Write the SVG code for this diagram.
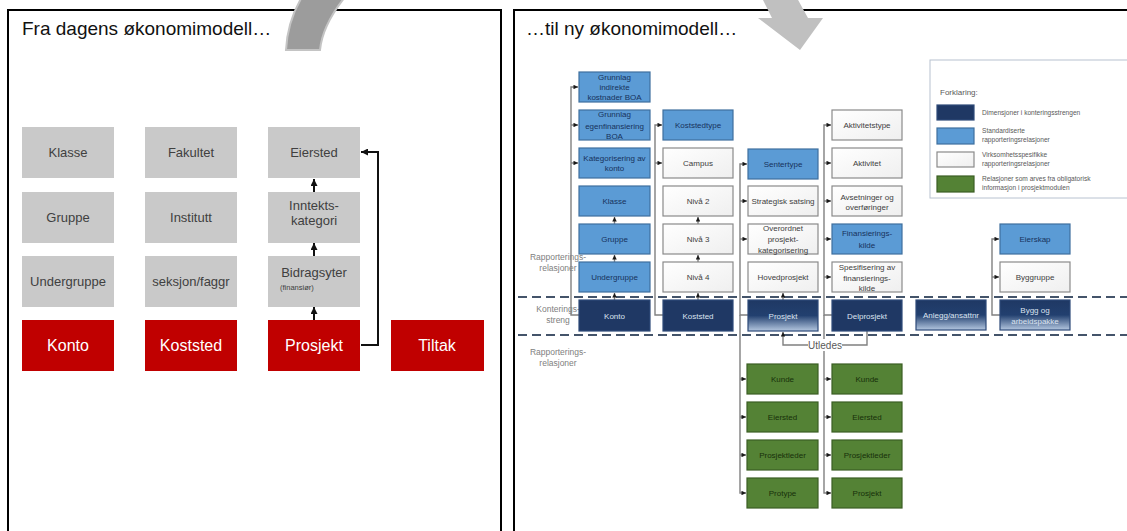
<svg xmlns="http://www.w3.org/2000/svg" width="1127" height="531" viewBox="0 0 1127 531">
<style>
.frame{fill:#fff;stroke:#000;stroke-width:2}
.title{font-family:"Liberation Sans",Arial,sans-serif;font-size:19px;fill:#111}
.gb{fill:#c9c9c9}
.rb{fill:#c00000}
.gt{font-family:"Liberation Sans",Arial,sans-serif;font-size:13px;fill:#404040;text-anchor:middle}
.rt{font-family:"Liberation Sans",Arial,sans-serif;font-size:16px;fill:#fff;text-anchor:middle}
.lc{fill:none;stroke:#111;stroke-width:2}
.b{fill:#5b9bd5;stroke:#3f6f9e;stroke-width:1.2}
.w{fill:url(#wg);stroke:#8a8a8a;stroke-width:1.2}
.n{fill:#1f3864;stroke:#2e4a78;stroke-width:1.2}
.ngr{fill:url(#ng);stroke:#2e4a78;stroke-width:1.2}
.g{fill:#548235;stroke:#3b5e23;stroke-width:1.2}
.t{font-family:"Liberation Sans",Arial,sans-serif;font-size:8px;text-anchor:middle}
.tb{fill:#17325c}
.tw{fill:#404040}
.tn{fill:#dbe3f0}
.tg{fill:#17300a}
.lab{font-family:"Liberation Sans",Arial,sans-serif;font-size:8.5px;fill:#808080;text-anchor:middle}
.rc{fill:none;stroke:#808080;stroke-width:1.4}
.dash{stroke:#44546a;stroke-width:2;stroke-dasharray:9 5}
.lg{font-family:"Liberation Sans",Arial,sans-serif;font-size:6.6px;fill:#595959}
</style>
<defs>
<linearGradient id="ng" x1="0" y1="0" x2="0" y2="1">
<stop offset="0" stop-color="#1f3864"/><stop offset="0.5" stop-color="#22406f"/><stop offset="1" stop-color="#b4c7e0"/>
</linearGradient>
<linearGradient id="wg" x1="0" y1="0" x2="1" y2="1">
<stop offset="0" stop-color="#ffffff"/><stop offset="1" stop-color="#efefef"/>
</linearGradient>
<marker id="la" viewBox="0 0 6 6" refX="6" refY="3" markerWidth="7" markerHeight="7" markerUnits="userSpaceOnUse" orient="auto"><path d="M0,0L6,3L0,6z" fill="#111"/></marker>
<marker id="ra" viewBox="0 0 6 6" refX="6" refY="3" markerWidth="5" markerHeight="4.5" markerUnits="userSpaceOnUse" orient="auto"><path d="M0,0L6,3L0,6z" fill="#1a1a1a"/></marker>
</defs>
<rect width="1127" height="531" fill="#fff"/>
<rect class="frame" x="8" y="10" width="493" height="540"/>
<rect class="frame" x="514" y="10" width="630" height="540"/>
<text class="title" x="22" y="35">Fra dagens økonomimodell…</text>
<text class="title" x="526" y="35">…til ny økonomimodell…</text>

<!-- curved arrow pieces -->
<path d="M286,50 C287,30 293,12 302,-3 L345,-3 C333,12 322,30 320,50 Z" fill="#9c9c9c" stroke="#c4c4c4" stroke-width="2"/>
<path d="M762,-2 L772,18 L758,18 L800,50 L823,18 L808,18 L797,-2 Z" fill="#c0c0c0"/>

<!-- left panel -->
<g id="l-klasse"><rect class="gb" x="22" y="127" width="92" height="51"/><text class="gt" x="68" y="157">Klasse</text></g>
<g id="l-gruppe"><rect class="gb" x="22" y="192" width="92" height="51"/><text class="gt" x="68" y="222">Gruppe</text></g>
<g id="l-undergruppe"><rect class="gb" x="22" y="256" width="92" height="51"/><text class="gt" x="68" y="286">Undergruppe</text></g>
<g id="l-konto"><rect class="rb" x="22" y="320" width="92" height="51"/><text class="rt" x="68" y="351">Konto</text></g>
<g id="l-fakultet"><rect class="gb" x="145" y="127" width="92" height="51"/><text class="gt" x="191" y="157">Fakultet</text></g>
<g id="l-institutt"><rect class="gb" x="145" y="192" width="92" height="51"/><text class="gt" x="191" y="222">Institutt</text></g>
<g id="l-seksjon"><rect class="gb" x="145" y="256" width="92" height="51"/><text class="gt" x="191" y="286">seksjon/faggr</text></g>
<g id="l-koststed"><rect class="rb" x="145" y="320" width="92" height="51"/><text class="rt" x="191" y="351">Koststed</text></g>
<g id="l-eiersted"><rect class="gb" x="268" y="127" width="92" height="51"/><text class="gt" x="314" y="157">Eiersted</text></g>
<g id="l-inntekt"><rect class="gb" x="268" y="192" width="92" height="51"/><text class="gt" x="314" y="209.5">Inntekts-</text><text class="gt" x="314" y="224.5">kategori</text></g>
<g id="l-bidrag"><rect class="gb" x="268" y="256" width="92" height="51"/><text class="gt" x="314" y="276.5">Bidragsyter</text><text x="280" y="289.5" font-family="Liberation Sans, Arial, sans-serif" font-size="7.5" fill="#404040">(finansiør)</text></g>
<g id="l-prosjekt"><rect class="rb" x="268" y="320" width="92" height="51"/><text class="rt" x="314" y="351">Prosjekt</text></g>
<g id="l-tiltak"><rect class="rb" x="391" y="320" width="93" height="51"/><text class="rt" x="437" y="351">Tiltak</text></g>

<g id="l-connectors">
<path class="lc" d="M314,320 V307" marker-end="url(#la)"/>
<path class="lc" d="M314,256 V243" marker-end="url(#la)"/>
<path class="lc" d="M314,192 V179" marker-end="url(#la)"/>
<path class="lc" d="M361,345 H378 V152 H361" marker-end="url(#la)"/>
</g>

<!-- right panel: dashed separators -->
<line class="dash" x1="518" y1="297" x2="1127" y2="297"/>
<line class="dash" x1="518" y1="335" x2="1127" y2="335"/>
<text class="lab" x="558" y="260">Rapporterings-</text>
<text class="lab" x="558" y="271">relasjoner</text>
<text class="lab" x="558" y="312">Konterings-</text>
<text class="lab" x="558" y="323">streng</text>
<text class="lab" x="558" y="355">Rapporterings-</text>
<text class="lab" x="558" y="366">relasjoner</text>

<!-- legend -->
<g id="legend">
<rect x="930" y="60" width="210" height="138" fill="#fff" stroke="#b8c2d0" stroke-width="1"/>
<text x="940" y="95" font-family="Liberation Sans, Arial, sans-serif" font-size="8" fill="#595959">Forklaring:</text>
<rect class="n" x="937" y="105" width="37" height="15"/>
<rect class="b" x="937" y="128" width="37" height="16"/>
<rect class="w" x="937" y="152" width="37" height="15"/>
<rect class="g" x="937" y="176" width="37" height="16"/>
<text class="lg" x="982" y="114.5">Dimensjoner i konteringsstrengen</text>
<text class="lg" x="982" y="133">Standardiserte</text>
<text class="lg" x="982" y="142">rapporteringsrelasjoner</text>
<text class="lg" x="982" y="157">Virksomhetsspesifikke</text>
<text class="lg" x="982" y="166">rapporteringsrelasjoner</text>
<text class="lg" x="982" y="181">Relasjoner som arves fra obligatorisk</text>
<text class="lg" x="982" y="190">informasjon i prosjektmodulen</text>
</g>

<!-- right panel connectors -->
<g id="connectors">
<path class="rc" d="M579,315 H571 V87 H578" marker-end="url(#ra)"/>
<path class="rc" d="M571,125 H578" marker-end="url(#ra)"/>
<path class="rc" d="M571,163 H578" marker-end="url(#ra)"/>
<path class="rc" d="M614.5,300 V293" marker-end="url(#ra)"/>
<path class="rc" d="M614.5,262 V255" marker-end="url(#ra)"/>
<path class="rc" d="M614.5,224 V217" marker-end="url(#ra)"/>
<path class="rc" d="M663,315 H655 V125 H662" marker-end="url(#ra)"/>
<path class="rc" d="M655,163 H662" marker-end="url(#ra)"/>
<path class="rc" d="M698,300 V293" marker-end="url(#ra)"/>
<path class="rc" d="M698,262 V255" marker-end="url(#ra)"/>
<path class="rc" d="M698,224 V217" marker-end="url(#ra)"/>
<path class="rc" d="M748,315 H740 V164 H747" marker-end="url(#ra)"/>
<path class="rc" d="M740,201 H747" marker-end="url(#ra)"/>
<path class="rc" d="M740,239 H747" marker-end="url(#ra)"/>
<path class="rc" d="M740,315 V493 H746" marker-end="url(#ra)"/>
<path class="rc" d="M740,379 H746" marker-end="url(#ra)"/>
<path class="rc" d="M740,417 H746" marker-end="url(#ra)"/>
<path class="rc" d="M740,455 H746" marker-end="url(#ra)"/>
<path class="rc" d="M783,300 V293" marker-end="url(#ra)"/>
<path class="rc" d="M832,315 H824 V125 H831" marker-end="url(#ra)"/>
<path class="rc" d="M824,163 H831" marker-end="url(#ra)"/>
<path class="rc" d="M824,201 H831" marker-end="url(#ra)"/>
<path class="rc" d="M824,239 H831" marker-end="url(#ra)"/>
<path class="rc" d="M824,277 H831" marker-end="url(#ra)"/>
<path class="rc" d="M824,315 V493 H831" marker-end="url(#ra)"/>
<path class="rc" d="M824,379 H831" marker-end="url(#ra)"/>
<path class="rc" d="M824,417 H831" marker-end="url(#ra)"/>
<path class="rc" d="M824,455 H831" marker-end="url(#ra)"/>
<path class="rc" d="M1000,315 H992 V239 H999" marker-end="url(#ra)"/>
<path class="rc" d="M992,277 H999" marker-end="url(#ra)"/>
<path class="rc" d="M867,331 V345 H783 V332" marker-end="url(#ra)"/>
<rect x="808" y="339" width="34" height="12" fill="#fff"/>
<text x="825" y="348.5" font-family="Liberation Sans, Arial, sans-serif" font-size="10" fill="#595959" text-anchor="middle">Utledes</text>
</g>

<!-- column 1 -->
<g id="r-grunnlag-indirekte"><rect class="b" x="579" y="72" width="71" height="30"/><text class="t tb" x="614.5" y="79.5">Grunnlag</text><text class="t tb" x="614.5" y="89.5">indirekte</text><text class="t tb" x="614.5" y="99.5">kostnader BOA</text></g>
<g id="r-grunnlag-egen"><rect class="b" x="579" y="110" width="71" height="30"/><text class="t tb" x="614.5" y="117">Grunnlag</text><text class="t tb" x="614.5" y="128.5">egenfinansiering</text><text class="t tb" x="614.5" y="139">BOA</text></g>
<g id="r-kategorisering"><rect class="b" x="579" y="148" width="71" height="30"/><text class="t tb" x="614.5" y="160.5">Kategorisering av</text><text class="t tb" x="614.5" y="171">konto</text></g>
<g id="r-klasse"><rect class="b" x="579" y="186" width="71" height="30"/><text class="t tb" x="614.5" y="204">Klasse</text></g>
<g id="r-gruppe"><rect class="b" x="579" y="224" width="71" height="30"/><text class="t tb" x="614.5" y="242">Gruppe</text></g>
<g id="r-undergruppe"><rect class="b" x="579" y="262" width="71" height="30"/><text class="t tb" x="614.5" y="280">Undergruppe</text></g>
<g id="r-konto"><rect class="n" x="579" y="300" width="71" height="31"/><text class="t tn" x="614.5" y="318.5">Konto</text></g>

<!-- column 2 -->
<g id="r-koststedtype"><rect class="b" x="663" y="110" width="70" height="30"/><text class="t tb" x="698" y="128">Koststedtype</text></g>
<g id="r-campus"><rect class="w" x="663" y="148" width="70" height="30"/><text class="t tw" x="698" y="166">Campus</text></g>
<g id="r-niva2"><rect class="w" x="663" y="186" width="70" height="30"/><text class="t tw" x="698" y="204">Nivå 2</text></g>
<g id="r-niva3"><rect class="w" x="663" y="224" width="70" height="30"/><text class="t tw" x="698" y="242">Nivå 3</text></g>
<g id="r-niva4"><rect class="w" x="663" y="262" width="70" height="30"/><text class="t tw" x="698" y="280">Nivå 4</text></g>
<g id="r-koststed"><rect class="n" x="663" y="300" width="70" height="31"/><text class="t tn" x="698" y="318.5">Koststed</text></g>

<!-- column 3 -->
<g id="r-sentertype"><rect class="b" x="748" y="149" width="70" height="30"/><text class="t tb" x="783" y="167">Sentertype</text></g>
<g id="r-strategisk"><rect class="w" x="748" y="186" width="70" height="30"/><text class="t tw" x="783" y="204">Strategisk satsing</text></g>
<g id="r-overordnet"><rect class="w" x="748" y="224" width="70" height="30"/><text class="t tw" x="783" y="231">Overordnet</text><text class="t tw" x="783" y="242">prosjekt-</text><text class="t tw" x="783" y="253">kategorisering</text></g>
<g id="r-hovedprosjekt"><rect class="w" x="748" y="262" width="70" height="30"/><text class="t tw" x="783" y="280">Hovedprosjekt</text></g>
<g id="r-prosjekt"><rect class="ngr" x="748" y="300" width="70" height="31"/><text class="t tn" x="783" y="318.5">Prosjekt</text></g>

<!-- column 4 -->
<g id="r-aktivitetstype"><rect class="w" x="832" y="110" width="70" height="30"/><text class="t tw" x="867" y="128">Aktivitetstype</text></g>
<g id="r-aktivitet"><rect class="w" x="832" y="148" width="70" height="30"/><text class="t tw" x="867" y="166">Aktivitet</text></g>
<g id="r-avsetninger"><rect class="w" x="832" y="186" width="70" height="30"/><text class="t tw" x="867" y="199.5">Avsetninger og</text><text class="t tw" x="867" y="210">overføringer</text></g>
<g id="r-finansieringskilde"><rect class="b" x="832" y="224" width="70" height="30"/><text class="t tb" x="867" y="236">Finansierings-</text><text class="t tb" x="867" y="248">kilde</text></g>
<g id="r-spesifisering"><rect class="w" x="832" y="262" width="70" height="30"/><text class="t tw" x="867" y="269.5">Spesifisering av</text><text class="t tw" x="867" y="281">finansierings-</text><text class="t tw" x="867" y="291">kilde</text></g>
<g id="r-delprosjekt"><rect class="n" x="832" y="300" width="70" height="31"/><text class="t tn" x="867" y="318.5">Delprosjekt</text></g>

<!-- column 5/6 -->
<g id="r-anlegg"><rect class="ngr" x="916" y="300" width="70" height="30"/><text class="t tn" x="951" y="318">Anlegg/ansattnr</text></g>
<g id="r-eierskap"><rect class="b" x="1000" y="224" width="70" height="30"/><text class="t tb" x="1035" y="242">Eierskap</text></g>
<g id="r-byggruppe"><rect class="w" x="1000" y="262" width="70" height="30"/><text class="t tw" x="1035" y="280">Byggruppe</text></g>
<g id="r-bygg"><rect class="ngr" x="1000" y="300" width="70" height="30"/><text class="t tn" x="1035" y="313">Bygg og</text><text class="t tn" x="1035" y="323.5">arbeidspakke</text></g>

<!-- green column 3 -->
<g id="r-kunde1"><rect class="g" x="747" y="364" width="71" height="30"/><text class="t tg" x="782.5" y="382">Kunde</text></g>
<g id="r-eiersted1"><rect class="g" x="747" y="402" width="71" height="30"/><text class="t tg" x="782.5" y="420">Eiersted</text></g>
<g id="r-prosjektleder1"><rect class="g" x="747" y="440" width="71" height="30"/><text class="t tg" x="782.5" y="458">Prosjektleder</text></g>
<g id="r-protype"><rect class="g" x="747" y="478" width="71" height="30"/><text class="t tg" x="782.5" y="496">Protype</text></g>
<!-- green column 4 -->
<g id="r-kunde2"><rect class="g" x="832" y="364" width="70" height="30"/><text class="t tg" x="867" y="382">Kunde</text></g>
<g id="r-eiersted2"><rect class="g" x="832" y="402" width="70" height="30"/><text class="t tg" x="867" y="420">Eiersted</text></g>
<g id="r-prosjektleder2"><rect class="g" x="832" y="440" width="70" height="30"/><text class="t tg" x="867" y="458">Prosjektleder</text></g>
<g id="r-prosjekt2"><rect class="g" x="832" y="478" width="70" height="30"/><text class="t tg" x="867" y="496">Prosjekt</text></g>
</svg>
